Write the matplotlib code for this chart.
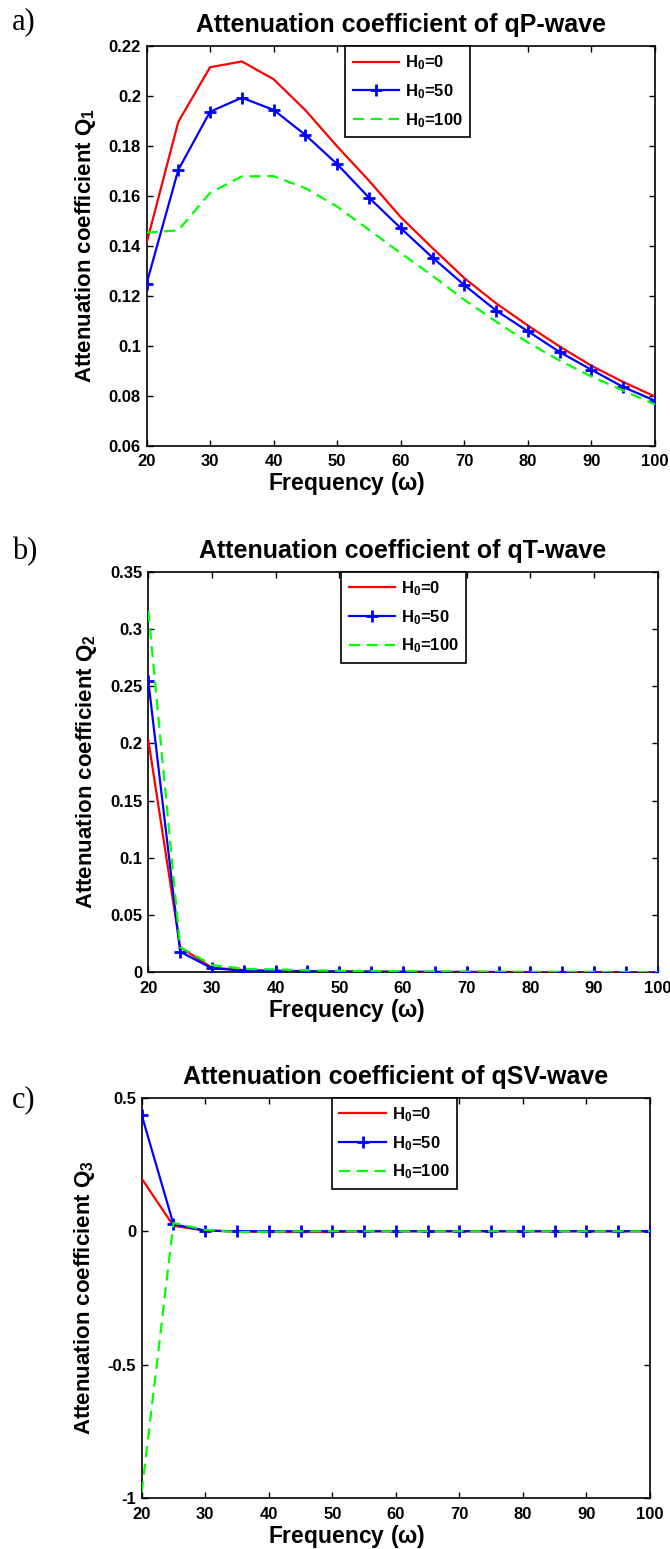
import matplotlib
matplotlib.use("Agg")
import matplotlib.pyplot as plt
import numpy as np

plt.rcParams['font.family'] = ['Liberation Sans', 'DejaVu Sans']
plt.rcParams['font.weight'] = 'bold'
plt.rcParams['mathtext.fontset'] = 'custom'
plt.rcParams['mathtext.rm'] = 'Liberation Sans:bold'
plt.rcParams['mathtext.bf'] = 'Liberation Sans:bold'
plt.rcParams['mathtext.it'] = 'Liberation Sans:bold'

freq = [20, 25, 30, 35, 40, 45, 50, 55, 60, 65, 70, 75, 80, 85, 90, 95, 100]

# Panel a: qP-wave
qp_h0 = [0.141, 0.1896, 0.2115, 0.2138, 0.2067, 0.1943, 0.1798, 0.1661, 0.1515,
         0.1391, 0.1271, 0.1170, 0.1081, 0.0997, 0.0920, 0.0855, 0.0797]
qp_h50 = [0.1248, 0.1704, 0.1937, 0.1993, 0.1944, 0.1844, 0.1727, 0.1593, 0.1471,
          0.1353, 0.1243, 0.1141, 0.1058, 0.0975, 0.0904, 0.0835, 0.0780]
qp_h100 = [0.1453, 0.1462, 0.1612, 0.1678, 0.1679, 0.1631, 0.1557, 0.1464, 0.1371,
           0.1280, 0.1184, 0.1097, 0.1013, 0.0941, 0.0877, 0.0821, 0.0765]

# Panel b: qT-wave
qt_h0 = [0.203, 0.022, 0.004, 0.002, 0.0015, 0.001, 0.0008, 0.0006, 0.0005,
         0.0004, 0.0003, 0.0003, 0.0002, 0.0002, 0.0002, 0.0001, 0.0001]
qt_h50 = [0.2545, 0.018, 0.0035, 0.0015, 0.001, 0.0008, 0.0006, 0.0005, 0.0004,
          0.0003, 0.0003, 0.0002, 0.0002, 0.0002, 0.0001, 0.0001, 0.0001]
qt_h100 = [0.316, 0.022, 0.0064, 0.003, 0.0025, 0.0018, 0.0013, 0.001, 0.0009,
           0.0007, 0.0006, 0.0005, 0.0004, 0.0004, 0.0003, 0.0003, 0.0002]

# Panel c: qSV-wave
qsv_h0 = [0.197, 0.02, 0.003, -0.001, -0.003, -0.003, -0.003, 0.0, 0.0,
          0.0, 0.0, 0.0, 0.0, 0.0, 0.0, 0.0, 0.0]
qsv_h50 = [0.435, 0.026, 0.002, 0.0, 0.0, 0.0, 0.0, 0.0, 0.0,
           0.0, 0.0, 0.0, 0.0, 0.0, 0.0, 0.0, 0.0]
qsv_h100 = [-0.978, 0.031, 0.005, -0.003, -0.002, 0.0, 0.0, 0.0, 0.0,
            0.0, 0.0, 0.0, 0.0, 0.0, 0.0, 0.0, 0.0]

labels = [r'$\mathregular{H_0}$=0', r'$\mathregular{H_0}$=50', r'$\mathregular{H_0}$=100']

panels = [
    dict(tag='a)', tag_y=22, title='Attenuation coefficient of qP-wave', sub='1',
         data=(qp_h0, qp_h50, qp_h100), ylim=(0.06, 0.22),
         yticks=[0.06, 0.08, 0.1, 0.12, 0.14, 0.16, 0.18, 0.2, 0.22],
         yticklabels=['0.06', '0.08', '0.1', '0.12', '0.14', '0.16', '0.18', '0.2', '0.22'],
         rect=(146.5, 46, 655, 445.7), leg=345),
    dict(tag='b)', tag_y=552, title='Attenuation coefficient of qT-wave', sub='2',
         data=(qt_h0, qt_h50, qt_h100), ylim=(0, 0.35),
         yticks=[0, 0.05, 0.1, 0.15, 0.2, 0.25, 0.3, 0.35],
         yticklabels=['0', '0.05', '0.1', '0.15', '0.2', '0.25', '0.3', '0.35'],
         rect=(148.3, 571.7, 657.7, 972.3), leg=341),
    dict(tag='c)', tag_y=1100, title='Attenuation coefficient of qSV-wave', sub='3',
         data=(qsv_h0, qsv_h50, qsv_h100), ylim=(-1, 0.5),
         yticks=[-1, -0.5, 0, 0.5],
         yticklabels=['-1', '-0.5', '0', '0.5'],
         rect=(141.7, 1097.7, 650, 1498.3), leg=332),
]

W, H = 670, 1549
fig = plt.figure(figsize=(W / 100, H / 100), dpi=100)

for p in panels:
    x0, y0, x1, y1 = p['rect']
    ax = fig.add_axes([x0 / W, 1 - y1 / H, (x1 - x0) / W, (y1 - y0) / H])
    d0, d50, d100 = p['data']
    ax.plot(freq, d0, color='#ff0000', lw=1.6, label=labels[0], zorder=3)
    ax.plot(freq, d50, color='#0000ff', lw=1.6, marker='+', ms=9, mew=2,
            label=labels[1], zorder=4)
    ax.plot(freq, d100, color='#00ff00', lw=1.6, ls=(0, (5, 3)), label=labels[2], zorder=5)
    ax.set_xlim(20, 100)
    ax.set_ylim(*p['ylim'])
    ax.set_xticks([20, 30, 40, 50, 60, 70, 80, 90, 100])
    ax.set_yticks(p['yticks'])
    ax.set_yticklabels(p['yticklabels'])
    ax.tick_params(direction='in', length=4, width=1, top=True, right=True,
                   labelsize=12)
    ax.tick_params(axis='x', pad=6)
    ax.tick_params(axis='y', pad=4)
    for lab in ax.get_xticklabels() + ax.get_yticklabels():
        lab.set_fontweight('bold')
    for s in ax.spines.values():
        s.set_linewidth(1.2)
    ax.set_title(p['title'], fontsize=18, fontweight='bold', pad=10)
    ax.set_xlabel(r'Frequency ($\omega$)', fontsize=16.5, fontweight='bold')
    ax.xaxis.set_label_coords((347 - x0) / (x1 - x0), -24.5 / (y1 - y0))
    ax.set_ylabel('Attenuation coefficient Q$_{' + p['sub'] + '}$', fontsize=16,
                  fontweight='bold', labelpad=8)
    leg = ax.legend(loc='upper left',
                    bbox_to_anchor=((p['leg'] - x0) / (x1 - x0), 1.0),
                    borderaxespad=0, fontsize=12, handlelength=2.8,
                    handletextpad=0.35,
                    frameon=True, fancybox=False, edgecolor='black',
                    framealpha=1, labelspacing=0.6, borderpad=0.45)
    leg.get_frame().set_linewidth(1.2)
    fig.text(12 / W, 1 - p['tag_y'] / H, p['tag'], fontsize=22,
             family='Liberation Serif', fontweight='normal', va='center', ha='left')

fig.savefig('out.png', dpi=100, facecolor='white')
